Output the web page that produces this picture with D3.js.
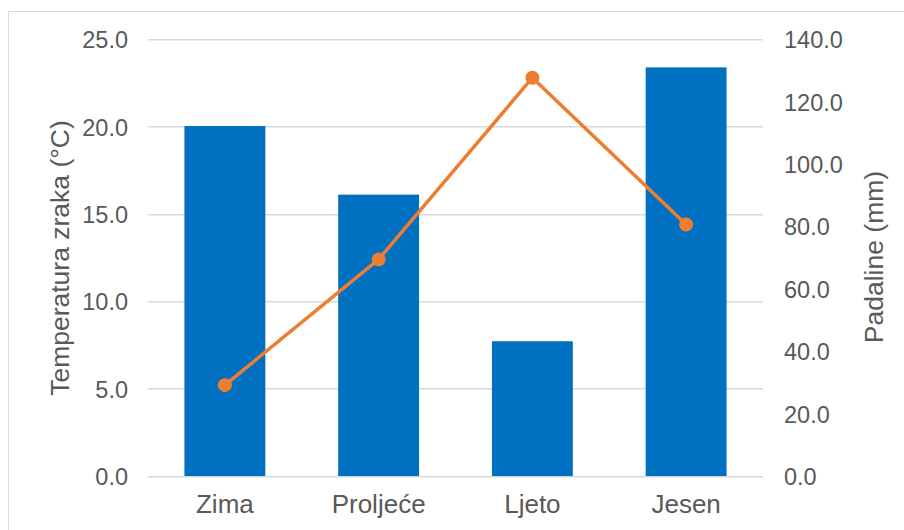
<!DOCTYPE html>
<meta charset="utf-8">
<script src="https://d3js.org/d3.v7.min.js"></script>
<style>
  body { margin: 0; background: #fff; }
  text { font-family: "Liberation Sans", Arial, sans-serif; fill: #595959; }
</style>
<div id="chart"></div>
<script>

// data
var seasons = ["Zima", "Proljeće", "Ljeto", "Jesen"];
var padaline = [112.2, 90.2, 43.2, 131.0];     // bars, right axis (mm)
var temperatura = [5.2, 12.4, 22.8, 14.4];     // line, left axis (°C)
var tempTicks = [0, 5, 10, 15, 20, 25];
var rainTicks = [0, 20, 40, 60, 80, 100, 120, 140];

var W = 904, H = 530;
var margin = {top: 39.3, right: 141, bottom: 54, left: 148};
var width = W - margin.left - margin.right,
    height = H - margin.top - margin.bottom;

var svg = d3.select("#chart")
  .append("svg")
    .attr("width", W)
    .attr("height", H);

// chart border
svg.append("rect")
  .attr("x", 8.5).attr("y", 11.5)
  .attr("width", W).attr("height", H)
  .attr("fill", "none")
  .attr("stroke", "#d9d9d9")
  .attr("stroke-width", 1);

var g = svg.append("g")
  .attr("transform", "translate(" + margin.left + "," + margin.top + ")");

var x = d3.scaleBand()
  .domain(seasons)
  .range([0, width])
  .paddingInner(0.9 / 1.9)
  .paddingOuter(0.45 / 1.9);

var xc = d3.scaleBand().domain(seasons).range([0, width]);

var yL = d3.scaleLinear().domain([0, 25]).range([height, 0]);
var yR = d3.scaleLinear().domain([0, 140]).range([height, 0]);

// gridlines
g.selectAll(".grid")
  .data(tempTicks)
  .enter().append("line")
    .attr("x1", 0).attr("x2", width)
    .attr("y1", function(d) { return Math.round(yL(d)) + 0.5; })
    .attr("y2", function(d) { return Math.round(yL(d)) + 0.5; })
    .attr("stroke", "#d9d9d9")
    .attr("stroke-width", 1.5);

// left axis
g.append("g")
  .call(d3.axisLeft(yL).tickValues(tempTicks).tickFormat(d3.format(".1f")).tickSize(0).tickPadding(20))
  .call(function(a) { a.select(".domain").remove(); })
  .selectAll("text")
    .style("font-size", "23.5px")
    .attr("fill", "#595959")
    .attr("dy", "0.36em");

// right axis
g.append("g")
  .attr("transform", "translate(" + width + ",0)")
  .call(d3.axisRight(yR).tickValues(rainTicks).tickFormat(d3.format(".1f")).tickSize(0).tickPadding(21))
  .call(function(a) { a.select(".domain").remove(); })
  .selectAll("text")
    .style("font-size", "23.5px")
    .attr("fill", "#595959")
    .attr("dy", "0.36em");

// bottom axis
g.append("g")
  .attr("transform", "translate(0," + height + ")")
  .call(d3.axisBottom(xc).tickSize(0).tickPadding(19))
  .call(function(a) { a.select(".domain").remove(); })
  .selectAll("text")
    .style("font-size", "26px")
    .attr("fill", "#595959")
    .attr("dy", "0.71em");

// bars
g.selectAll(".bar")
  .data(seasons)
  .enter().append("rect")
    .attr("x", function(d) { return x(d); })
    .attr("width", x.bandwidth())
    .attr("y", function(d, i) { return yR(padaline[i]); })
    .attr("height", function(d, i) { return height - yR(padaline[i]); })
    .attr("fill", "#0070c0");

// line
var line = d3.line()
  .x(function(d, i) { return xc(seasons[i]) + xc.bandwidth() / 2; })
  .y(function(d) { return yL(d); });

g.append("path")
  .datum(temperatura)
  .attr("d", line)
  .attr("fill", "none")
  .attr("stroke", "#ed7d31")
  .attr("stroke-width", 3.5)
  .attr("stroke-linejoin", "round");

g.selectAll(".dot")
  .data(temperatura)
  .enter().append("circle")
    .attr("cx", function(d, i) { return xc(seasons[i]) + xc.bandwidth() / 2; })
    .attr("cy", function(d) { return yL(d); })
    .attr("r", 7)
    .attr("fill", "#ed7d31");

// axis titles
svg.append("text")
  .attr("transform", "translate(69,258) rotate(-90)")
  .attr("text-anchor", "middle")
  .style("font-size", "26.5px")
  .text("Temperatura zraka (°C)");

svg.append("text")
  .attr("transform", "translate(883,257) rotate(-90)")
  .attr("text-anchor", "middle")
  .style("font-size", "26.5px")
  .text("Padaline (mm)");

</script>
